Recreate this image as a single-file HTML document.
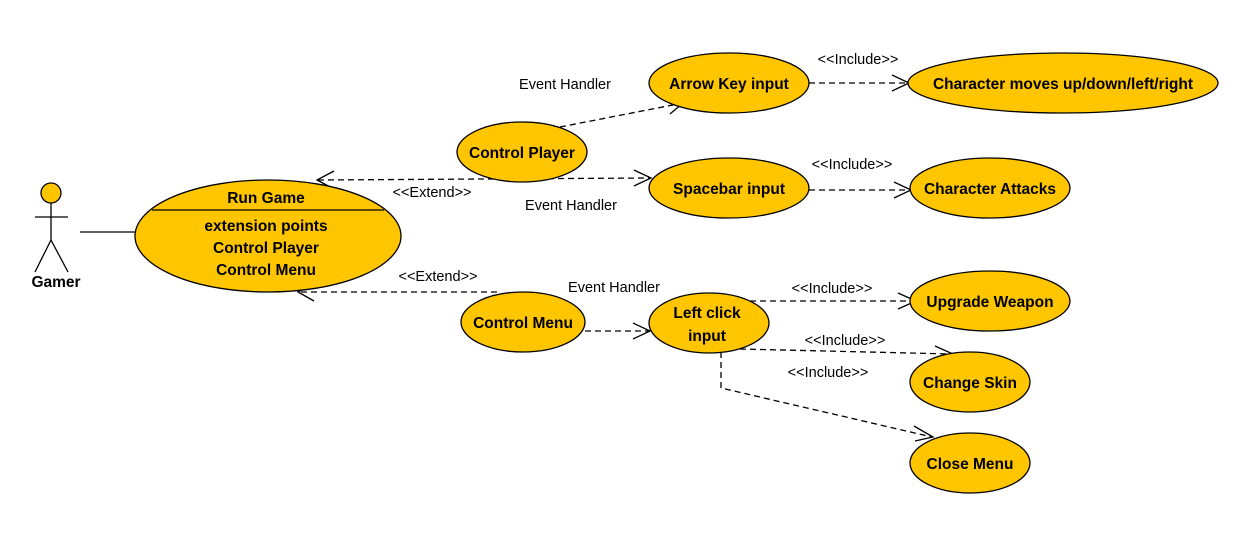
<!DOCTYPE html>
<html><head><meta charset="utf-8"><style>
html,body{margin:0;padding:0;background:#fff;width:1254px;height:534px;overflow:hidden}
svg text{font-family:"Liberation Sans",sans-serif}
.u{font-size:15.5px;fill:#000;text-anchor:middle;font-weight:bold}
.l{font-size:14.5px;fill:#000;text-anchor:middle}
</style></head><body>
<svg width="1254" height="534" viewBox="0 0 1254 534" xmlns="http://www.w3.org/2000/svg">
<g fill="none" stroke="#000" stroke-width="1.3">
<circle cx="51" cy="193" r="10" fill="#ffc600"/>
<line x1="51" y1="203" x2="51" y2="240"/>
<line x1="35" y1="217" x2="68" y2="217"/>
<line x1="51" y1="240" x2="35" y2="272"/>
<line x1="51" y1="240" x2="68" y2="272"/>
<line x1="80" y1="232" x2="137" y2="232"/>
<g stroke-dasharray="6,4">
<line x1="318" y1="180" x2="650" y2="178"/>
<line x1="560" y1="127" x2="683" y2="103"/>
<line x1="809" y1="83" x2="908" y2="83"/>
<line x1="809" y1="190" x2="910" y2="190"/>
<line x1="497" y1="292" x2="300" y2="292"/>
<line x1="585" y1="331" x2="649" y2="331"/>
<line x1="750" y1="301" x2="916" y2="301"/>
<line x1="740" y1="349" x2="952" y2="354"/>
<polyline points="721,352 721,388 932,437"/>
</g>
<polyline points="334,171 317,180 334,189"/>
<polyline points="634,170 651,178 634,186"/>
<polyline points="666,97 683,103 670,114"/>
<polyline points="892,75 909,83 892,91"/>
<polyline points="894,182 911,190 894,198"/>
<polyline points="314,283 298,292 314,301"/>
<polyline points="633,323 650,331 633,339"/>
<polyline points="898,293 916,301 898,309"/>
<polyline points="935,346 953,354 937,362"/>
<polyline points="914,426 933,437 915,441"/>
<g fill="#ffc600">
<ellipse cx="268" cy="236" rx="133" ry="56"/>
<ellipse cx="522" cy="152" rx="65" ry="30"/>
<ellipse cx="729" cy="83" rx="80" ry="30"/>
<ellipse cx="1063" cy="83" rx="155" ry="30"/>
<ellipse cx="729" cy="188" rx="80" ry="30"/>
<ellipse cx="990" cy="188" rx="80" ry="30"/>
<ellipse cx="523" cy="322" rx="62" ry="30"/>
<ellipse cx="709" cy="323" rx="60" ry="30"/>
<ellipse cx="990" cy="301" rx="80" ry="30"/>
<ellipse cx="970" cy="382" rx="60" ry="30"/>
<ellipse cx="970" cy="463" rx="60" ry="30"/>
</g>
<line x1="152" y1="210" x2="384" y2="210"/>
</g>
<text class="u" x="56" y="287">Gamer</text>
<text class="u" x="266" y="203">Run Game</text>
<text class="u" x="266" y="231">extension points</text>
<text class="u" x="266" y="253">Control Player</text>
<text class="u" x="266" y="275">Control Menu</text>
<text class="u" x="522" y="158">Control Player</text>
<text class="u" x="729" y="89">Arrow Key input</text>
<text class="u" x="1063" y="89">Character moves up/down/left/right</text>
<text class="u" x="729" y="194">Spacebar input</text>
<text class="u" x="990" y="194">Character Attacks</text>
<text class="u" x="523" y="328">Control Menu</text>
<text class="u" x="707" y="318">Left click</text>
<text class="u" x="707" y="341">input</text>
<text class="u" x="990" y="307">Upgrade Weapon</text>
<text class="u" x="970" y="388">Change Skin</text>
<text class="u" x="970" y="469">Close Menu</text>
<text class="l" x="565" y="89">Event Handler</text>
<text class="l" x="571" y="210">Event Handler</text>
<text class="l" x="614" y="292">Event Handler</text>
<text class="l" x="858" y="64">&lt;&lt;Include&gt;&gt;</text>
<text class="l" x="852" y="169">&lt;&lt;Include&gt;&gt;</text>
<text class="l" x="832" y="293">&lt;&lt;Include&gt;&gt;</text>
<text class="l" x="845" y="345">&lt;&lt;Include&gt;&gt;</text>
<text class="l" x="828" y="377">&lt;&lt;Include&gt;&gt;</text>
<text class="l" x="432" y="197">&lt;&lt;Extend&gt;&gt;</text>
<text class="l" x="438" y="281">&lt;&lt;Extend&gt;&gt;</text>
</svg>
</body></html>
